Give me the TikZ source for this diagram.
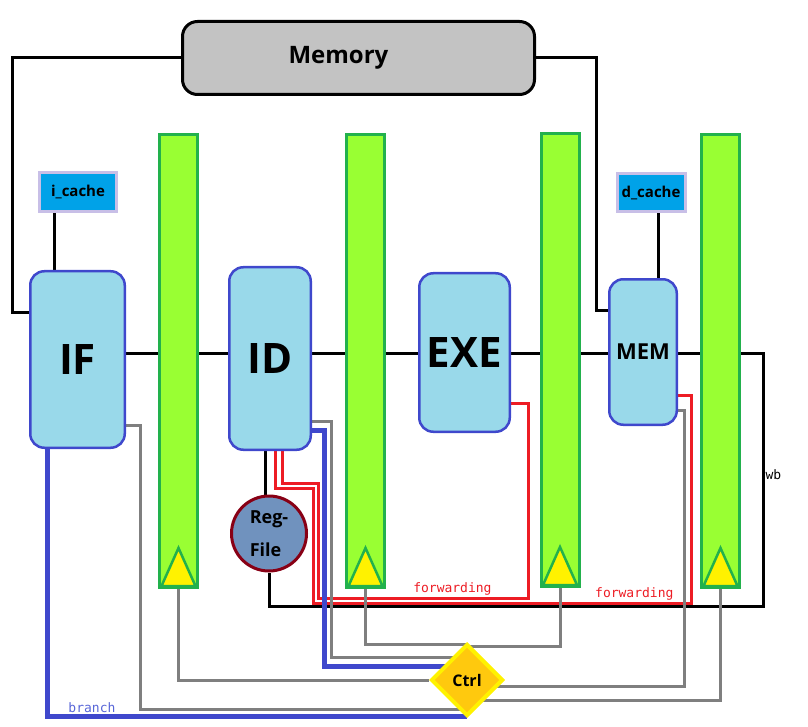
\documentclass[tikz,border=0pt]{standalone}
\usepackage{fontspec}
\setmainfont{Open Sans}
\setmonofont{DejaVu Sans Mono}
\usetikzlibrary{shapes.geometric,backgrounds}

\definecolor{stagefill}{HTML}{99D9EA}
\definecolor{stageline}{HTML}{3F48CC}
\definecolor{latchfill}{HTML}{99FF33}
\definecolor{latchline}{HTML}{22B14C}
\definecolor{clockfill}{HTML}{FFF200}
\definecolor{cachefill}{HTML}{00A2E8}
\definecolor{cacheline}{HTML}{C8BFE7}
\definecolor{memfill}{HTML}{C3C3C3}
\definecolor{regfill}{HTML}{7092BE}
\definecolor{regline}{HTML}{880015}
\definecolor{ctrlfill}{HTML}{FFC90E}
\definecolor{ctrlline}{HTML}{FFF200}
\definecolor{fwdred}{HTML}{ED1C24}
\definecolor{ctlgray}{HTML}{7F7F7F}
\definecolor{brnblue}{HTML}{3F48CC}
\definecolor{brntext}{HTML}{5866D8}

\tikzset{
    stage/.style={draw=stageline, fill=stagefill, line width=2.5pt, rounded corners=14pt, inner sep=0pt, font=\bfseries\fontsize{42}{42}\selectfont},
    latch/.style={draw=latchline, fill=latchfill, line width=3pt, minimum width=38pt, minimum height=453pt, inner sep=0pt},
    cache/.style={draw=cacheline, fill=cachefill, line width=3pt, inner sep=0pt, font=\bfseries\fontsize{15}{15}\selectfont},
    clock/.style={draw=latchline, fill=clockfill, line width=2.5pt},
    wire/.style={line width=3pt},
    fwd/.style={draw=fwdred, line width=3pt},
    ctl/.style={draw=ctlgray, line width=3pt},
    brn/.style={draw=brnblue, line width=5pt},
    monolabel/.style={font=\ttfamily\fontsize{13}{13}\selectfont, inner sep=1pt}
}

\begin{document}
\begin{tikzpicture}[x=1pt, y=-1pt]
        \useasboundingbox (0,0) rectangle (808,727);

        \node (memory) [draw, line width=3pt, fill=memfill, rounded corners=15pt, minimum width=352pt, minimum height=73pt,
            label={[xshift=-20pt, font=\bfseries\fontsize{24}{24}\selectfont]center:Memory}] at (358.5,58) {};

        \node (icache) [cache, minimum width=77pt, minimum height=39pt] at (78,192) {i\_cache};
        \node (dcache) [cache, minimum width=68pt, minimum height=38pt] at (651,192.5) {d\_cache};

        \node (if) [stage, minimum width=94.5pt, minimum height=176.5pt] at (77.5,359.5) {IF};
        \node (id) [stage, minimum width=81.5pt, minimum height=182.5pt] at (270,358.5) {ID};
        \node (exe) [stage, minimum width=90.5pt, minimum height=158.5pt] at (464.5,352.5) {EXE};
        \node (mem) [stage, minimum width=67.5pt, minimum height=145.5pt, font=\bfseries\fontsize{22}{22}\selectfont] at (643,352) {MEM};

        \node (bar1) [latch] at (178.5,361) {};
        \node (bar2) [latch] at (365.5,361) {};
        \node (bar3) [latch] at (560,360) {};
        \node (bar4) [latch] at (720.5,361) {};

        \draw[clock] ([shift={(-17,-3)}]bar1.south) -- ([shift={(0,-41)}]bar1.south) -- ([shift={(17,-3)}]bar1.south) -- cycle;
        \draw[clock] ([shift={(-17,-3)}]bar2.south) -- ([shift={(0,-41)}]bar2.south) -- ([shift={(17,-3)}]bar2.south) -- cycle;
        \draw[clock] ([shift={(-17,-3)}]bar3.south) -- ([shift={(0,-41)}]bar3.south) -- ([shift={(17,-3)}]bar3.south) -- cycle;
        \draw[clock] ([shift={(-17,-3)}]bar4.south) -- ([shift={(0,-41)}]bar4.south) -- ([shift={(17,-3)}]bar4.south) -- cycle;

        \node (regfile) [circle, draw=regline, fill=regfill, line width=3pt, minimum size=75pt, inner sep=0pt, align=left,
            font=\bfseries\fontsize{18}{33}\selectfont] at (269,533.5) {Reg-\\File};
        \node (ctrl) [diamond, draw=ctrlline, fill=ctrlfill, line width=4pt, minimum size=72pt, inner sep=0pt,
            font=\bfseries\fontsize{16}{16}\selectfont] at (467,680) {Ctrl};

        \coordinate (bus) at (0,353);
        \coordinate (imem) at (12,312);
        \coordinate (dmem) at (596,310);
        \coordinate (wbc) at (763,606);
        \coordinate (fa) at (528,598);
        \coordinate (fb) at (318,483);
        \coordinate (fc) at (691,603);
        \coordinate (fd) at (313,488);
        \coordinate (bb) at (324,666);
        \coordinate (g1) at (331,657);
        \coordinate (g2) at (140,709);
        \coordinate (g6) at (684,686);

        \begin{scope}[on background layer]
        \draw[wire] (memory.west) -| (imem) -- (if.west |- imem);
        \draw[wire] (memory.east) -| (dmem) -- (mem.west |- dmem);
        \draw[wire] ([xshift=-24pt]icache.south) -- ([xshift=-24pt]icache.south |- if.north);
        \draw[wire] ([xshift=7pt]dcache.south) -- ([xshift=7pt]dcache.south |- mem.north);

        \draw[wire] (if.east |- bus) -- (bar1.west |- bus);
        \draw[wire] (bar1.east |- bus) -- (id.west |- bus);
        \draw[wire] (id.east |- bus) -- (bar2.west |- bus);
        \draw[wire] (bar2.east |- bus) -- (exe.west |- bus);
        \draw[wire] (exe.east |- bus) -- (bar3.west |- bus);
        \draw[wire] (bar3.east |- bus) -- (mem.west |- bus);
        \draw[wire] (mem.east |- bus) -- (bar4.west |- bus);
        \draw[wire] (bar4.east |- bus) -| node[pos=0.74, right, monolabel] {wb} (wbc) -| (regfile.south);
        \draw[wire] ([xshift=-5pt]id.south) -- ([xshift=-5pt]id.south |- regfile.north);

        \draw[fwd] (exe.east |- 0,403) -| (fa) -| node[pos=0.18, above, monolabel, text=fwdred] {forwarding} (fb) -| ([xshift=12pt]id.south);
        \draw[fwd] (mem.east |- 0,395) -| (fc) -| node[pos=0.075, above, monolabel, text=fwdred] {forwarding} (fd) -| ([xshift=5pt]id.south);

        \draw[brn] ([xshift=-30pt]if.south) |- node[pos=0.553, above, monolabel, text=brntext] {branch} ([yshift=2pt]ctrl.south);
        \draw[brn] (id.east |- 0,430) -| (bb) -- (ctrl.center |- bb);

        \draw[ctl] (id.east |- 0,421) -| (g1) -- (ctrl.center |- g1);
        \draw[ctl] (if.east |- 0,425) -| (g2) -- (ctrl.center |- g2);
        \draw[ctl] (bar1.south) |- (ctrl.west);
        \draw[ctl] (bar2.south) |- (ctrl.center |- 0,644);
        \draw[ctl] (bar3.south) |- (ctrl.center |- 0,646);
        \draw[ctl] (mem.east |- 0,410) -| (g6) -- (ctrl.center |- g6);
        \draw[ctl] (bar4.south) |- (ctrl.center |- 0,700);
        \end{scope}
    \end{tikzpicture}
\end{document}
